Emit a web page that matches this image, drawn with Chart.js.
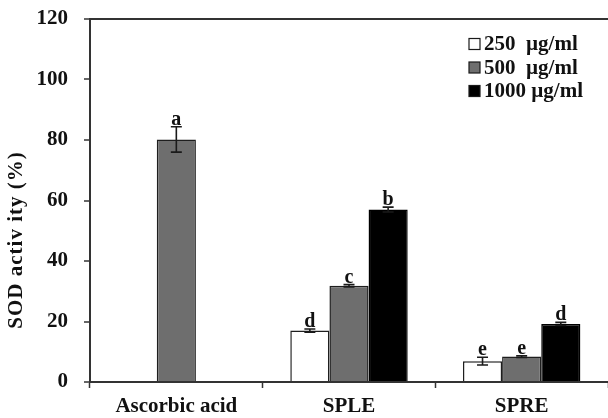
<!DOCTYPE html>
<html>
<head>
<meta charset="utf-8">
<script src="https://cdn.jsdelivr.net/npm/chart.js@4/dist/chart.umd.min.js"></script>
<style>
  html, body { margin: 0; padding: 0; background: #fff; }
  #wrap { width: 608px; height: 418px; position: relative; }
</style>
</head>
<body>
<div id="wrap"><canvas id="c" width="608" height="418"></canvas></div>
<script>
// ---- data ----
const categories = ['Ascorbic acid', 'SPLE', 'SPRE'];
const seriesLabels = ['250  µg/ml', '500  µg/ml', '1000 µg/ml'];
const values250  = [null, 17.0, 6.9];
const values500  = [80.2, 31.8, 8.4];
const values1000 = [null, 57.0, 19.2];
const errors250  = [null, 0.5, 1.3];
const errors500  = [4.2, 0.4, 0.3];
const errors1000 = [null, 0.8, 0.5];
const letters250  = [null, 'd', 'e'];
const letters500  = ['a', 'c', 'e'];
const letters1000 = [null, 'b', 'd'];
const yTicks = [0, 20, 40, 60, 80, 100, 120];
const yTitle = 'SOD activ ity (%)';

const FONT = "'Liberation Serif', 'Times New Roman', serif";
const AXIS = '#333333';
const TEXT = '#111111';
const fills = ['#ffffff', '#6e6e6e', '#000000'];

const errorSets = [errors250, errors500, errors1000];
const letterSets = [letters250, letters500, letters1000];

const errorBarPlugin = {
  id: 'errorBars',
  afterDatasetsDraw(chart) {
    const ctx = chart.ctx;
    const y = chart.scales.y;
    chart.data.datasets.forEach((ds, i) => {
      const meta = chart.getDatasetMeta(i);
      meta.data.forEach((el, j) => {
        const v = ds.data[j];
        if (v === null || v === undefined) return;
        const e = errorSets[i][j] || 0;
        const yTop = y.getPixelForValue(v + e);
        const yBot = y.getPixelForValue(v - e);
        ctx.save();
        ctx.strokeStyle = '#1a1a1a';
        ctx.lineWidth = 1.6;
        ctx.beginPath();
        ctx.moveTo(el.x, yTop); ctx.lineTo(el.x, yBot);
        ctx.moveTo(el.x - 5.5, yTop); ctx.lineTo(el.x + 5.5, yTop);
        ctx.moveTo(el.x - 5.5, yBot); ctx.lineTo(el.x + 5.5, yBot);
        ctx.stroke();
        const letter = letterSets[i][j];
        if (letter) {
          ctx.fillStyle = TEXT;
          ctx.font = 'bold 20px ' + FONT;
          ctx.textAlign = 'center';
          ctx.textBaseline = 'alphabetic';
          ctx.fillText(letter, el.x, Math.min(yTop, el.y) - 2);
        }
        ctx.restore();
      });
    });
  }
};

const legendPlugin = {
  id: 'boxLegend',
  afterDraw(chart) {
    const ctx = chart.ctx;
    const rows = [44, 67.5, 91];
    chart.data.datasets.forEach((ds, i) => {
      const cy = rows[i];
      ctx.save();
      ctx.fillStyle = ds.backgroundColor;
      ctx.strokeStyle = '#1a1a1a';
      ctx.lineWidth = 1.2;
      ctx.fillRect(469, cy - 5.5, 11, 11);
      ctx.strokeRect(469, cy - 5.5, 11, 11);
      ctx.fillStyle = TEXT;
      ctx.font = 'bold 21px ' + FONT;
      ctx.textAlign = 'left';
      ctx.textBaseline = 'middle';
      ctx.fillText(ds.label, 484, cy + 1);
      ctx.restore();
    });
  }
};

const yTitlePlugin = {
  id: 'yTitle',
  afterDraw(chart) {
    const ctx = chart.ctx;
    ctx.save();
    ctx.translate(17, 240);
    ctx.rotate(-Math.PI / 2);
    ctx.fillStyle = TEXT;
    ctx.font = 'bold 21px ' + FONT;
    if ('letterSpacing' in ctx) ctx.letterSpacing = '1px';
    ctx.textAlign = 'center';
    ctx.textBaseline = 'middle';
    ctx.fillText(yTitle, 0, 0);
    ctx.restore();
  }
};

new Chart(document.getElementById('c'), {
  type: 'bar',
  data: {
    labels: categories,
    datasets: [values250, values500, values1000].map((d, i) => ({
      label: seriesLabels[i],
      data: d,
      backgroundColor: fills[i],
      borderColor: i === 2 ? '#000000' : '#1e1e1e',
      borderWidth: 1.5,
      borderSkipped: 'bottom',
      categoryPercentage: 0.68,
      barPercentage: 1.0
    }))
  },
  options: {
    responsive: false,
    animation: false,
    devicePixelRatio: 1,
    layout: { padding: { top: 19, right: 0, bottom: 0, left: 0 } },
    plugins: {
      legend: { display: false },
      tooltip: { enabled: false }
    },
    scales: {
      x: {
        type: 'category',
        offset: true,
        grid: {
          drawOnChartArea: false,
          drawTicks: true,
          tickLength: 6,
          tickColor: AXIS,
          tickWidth: 1.5
        },
        border: { display: true, color: AXIS, width: 2 },
        ticks: {
          color: TEXT,
          font: { family: FONT, size: 21, weight: 'bold' },
          padding: 6,
          maxRotation: 0
        },
        afterFit(scale) { scale.height = 36; }
      },
      y: {
        min: 0,
        max: 120,
        afterBuildTicks(scale) { scale.ticks = yTicks.map(v => ({ value: v })); },
        grid: {
          drawOnChartArea: true,
          color: (c) => (c.tick && c.tick.value === 120 ? AXIS : 'rgba(0,0,0,0)'),
          lineWidth: 2,
          tickLength: 6,
          tickColor: AXIS,
          tickWidth: 1.5
        },
        border: { display: true, color: AXIS, width: 2 },
        ticks: {
          color: TEXT,
          font: { family: FONT, size: 21, weight: 'bold', lineHeight: 0.6 },
          padding: 16
        },
        title: { display: false },
        afterFit(scale) {
          scale.width = 90;
          scale.paddingTop = 0;
          scale.paddingBottom = 0;
        }
      }
    }
  },
  plugins: [errorBarPlugin, legendPlugin, yTitlePlugin]
});
</script>
</body>
</html>
